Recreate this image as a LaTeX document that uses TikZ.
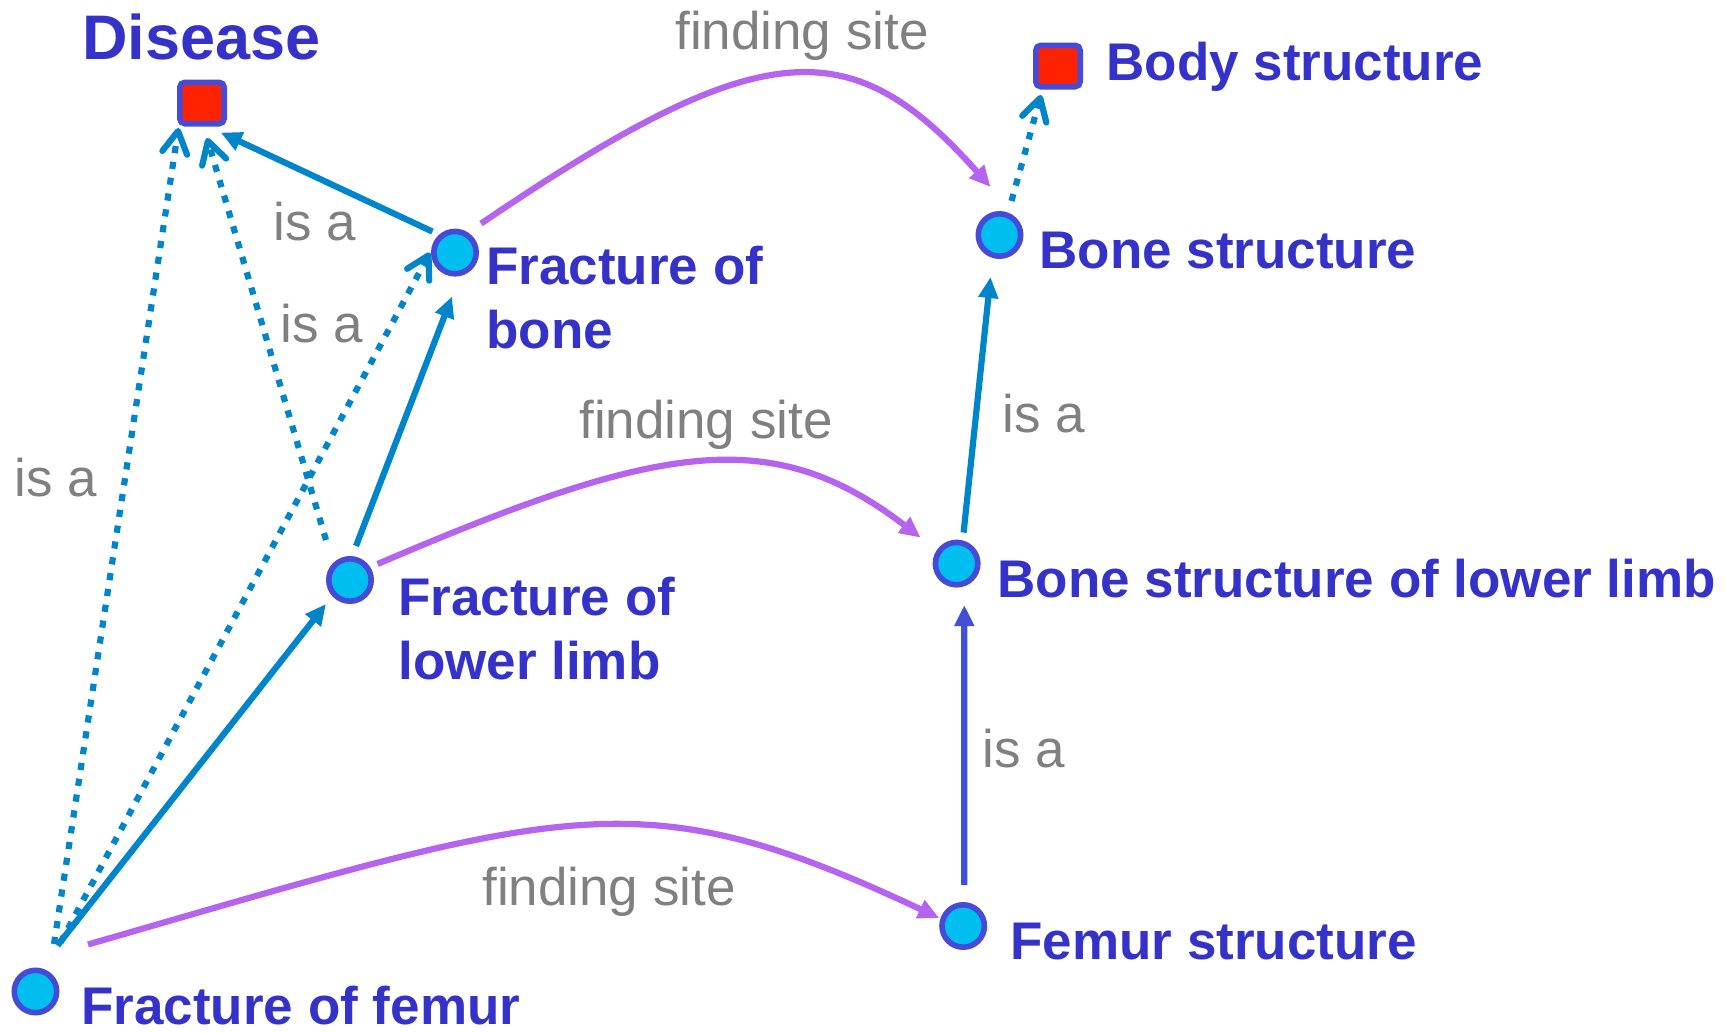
\documentclass[tikz,border=0pt]{standalone}
\usepackage{fontspec}
\setmainfont{Liberation Sans}
\usetikzlibrary{arrows.meta,calc,shadows}
\definecolor{lblue}{RGB}{0,133,202}
\definecolor{purp}{RGB}{180,100,238}
\definecolor{cyanf}{RGB}{0,190,240}
\definecolor{nodeb}{RGB}{70,75,215}
\definecolor{redf}{RGB}{255,34,0}
\definecolor{txtc}{RGB}{52,50,200}
\definecolor{grayc}{RGB}{128,128,128}
\definecolor{indig}{RGB}{65,80,215}
\begin{document}
\begin{tikzpicture}[x=0.5pt,y=-0.5pt,
  cnode/.style={circle,draw=nodeb,fill=cyanf,line width=2.8pt,minimum size=21.2pt,inner sep=0pt},
  snode/.style={rectangle,rounded corners=2.5pt,draw=nodeb,fill=redf,line width=2.8pt,minimum width=22.2pt,minimum height=20.7pt,inner sep=0pt,drop shadow={shadow xshift=0.8pt,shadow yshift=-0.9pt,opacity=0.3,fill=black}},
  lbl/.style={font=\fontsize{26.5}{32}\selectfont\bfseries,text=txtc,anchor=base west,inner sep=0pt,align=left},
  rel/.style={font=\fontsize{26.5}{32}\selectfont,text=grayc,anchor=base,inner sep=0pt},
  isa/.style={draw=lblue,line width=3.1pt,-{Triangle[length=10.5pt,width=9.5pt]}},
  isav/.style={draw=indig,line width=3.1pt,-{Triangle[length=10.5pt,width=9.5pt]}},
  isadot/.style={draw=lblue,line width=3.1pt,dash pattern=on 3.6pt off 4.4pt,-{Straight Barb[length=11pt,width=12.5pt,round]}},
  fsite/.style={draw=purp,line width=3.1pt,-{Triangle[length=10.5pt,width=9.5pt]}},
]
\useasboundingbox (0,0) rectangle (1726,1033);
% nodes
\node[snode] (dis) at (202,103) {};
\node[snode] (body) at (1058,66) {};
\node[cnode] (fob) at (455,252.6) {};
\node[cnode] (fll) at (350,580) {};
\node[cnode] (ff) at (35.5,991.5) {};
\node[cnode] (bs) at (999.5,235) {};
\node[cnode] (bsll) at (956.6,563.6) {};
\node[cnode] (fs) at (963.2,926) {};
% labels
\node[lbl,font=\fontsize{31.5}{36}\selectfont\bfseries] (disl) at (82,60) {Disease};
\node[lbl] (bodyl) at (1106,80) {Body structure};
\node[lbl] (fobl) at (486,348.5) {Fracture of\\bone};
\node[lbl] (flll) at (398,679) {Fracture of\\lower limb};
\node[lbl] (ffl) at (81,1024) {Fracture of femur};
\node[lbl] (bsl) at (1039,268) {Bone structure};
\node[lbl] (bslll) at (997,597) {Bone structure of lower limb};
\node[lbl] (fsl) at (1010,959) {Femur structure};
% relation labels
\node[rel] (r1) at (802,49.5) {finding site};
\node[rel] (r2) at (706,438) {finding site};
\node[rel] (r3) at (609,905) {finding site};
\node[rel] (i1) at (315,240) {is a};
\node[rel] (i2) at (322,342) {is a};
\node[rel] (i3) at (55.6,496) {is a};
\node[rel] (i4) at (1044,432.6) {is a};
\node[rel] (i5) at (1024,767) {is a};
% edges
\draw[isadot] ($(ff)+(18.5,-47.5)$) -- ($(dis)+(-23.5,25)$);
\draw[isadot] ($(fll)+(-24,-40)$) -- ($(dis)+(5,35)$);
\draw[isadot] ($(ff)+(25,-49)$) -- ($(fob)+(-25,0)$);
\draw[isa] ($(fob)+(-22.5,-21)$) -- ($(dis)+(18.8,29.6)$);
\draw[isa] ($(fll)+(6,-34)$) -- ($(fob)+(-3,44)$);
\draw[isa] ($(ff)+(22,-46)$) -- ($(fll)+(-24,24)$);
\draw[fsite] ($(fob)+(26,-29)$) .. controls +(280,-190) and +(-140,-158) .. ($(bs)+(-9,-48)$);
\draw[fsite] ($(fll)+(27.6,-16)$) .. controls +(280,-120) and +(-150,-115) .. ($(bsll)+(-36,-26)$);
\draw[fsite] ($(ff)+(52.5,-47)$) .. controls +(480,-139) and +(-300,-141) .. ($(fs)+(-24,-8)$);
\draw[isadot] ($(bs)+(12,-34)$) -- ($(body)+(-17,29)$);
\draw[isa] ($(bsll)+(7,-31)$) -- ($(bs)+(-9,42)$);
\draw[isav] ($(fs)+(1,-41)$) -- ($(bsll)+(7.7,41.5)$);
\end{tikzpicture}
\end{document}
